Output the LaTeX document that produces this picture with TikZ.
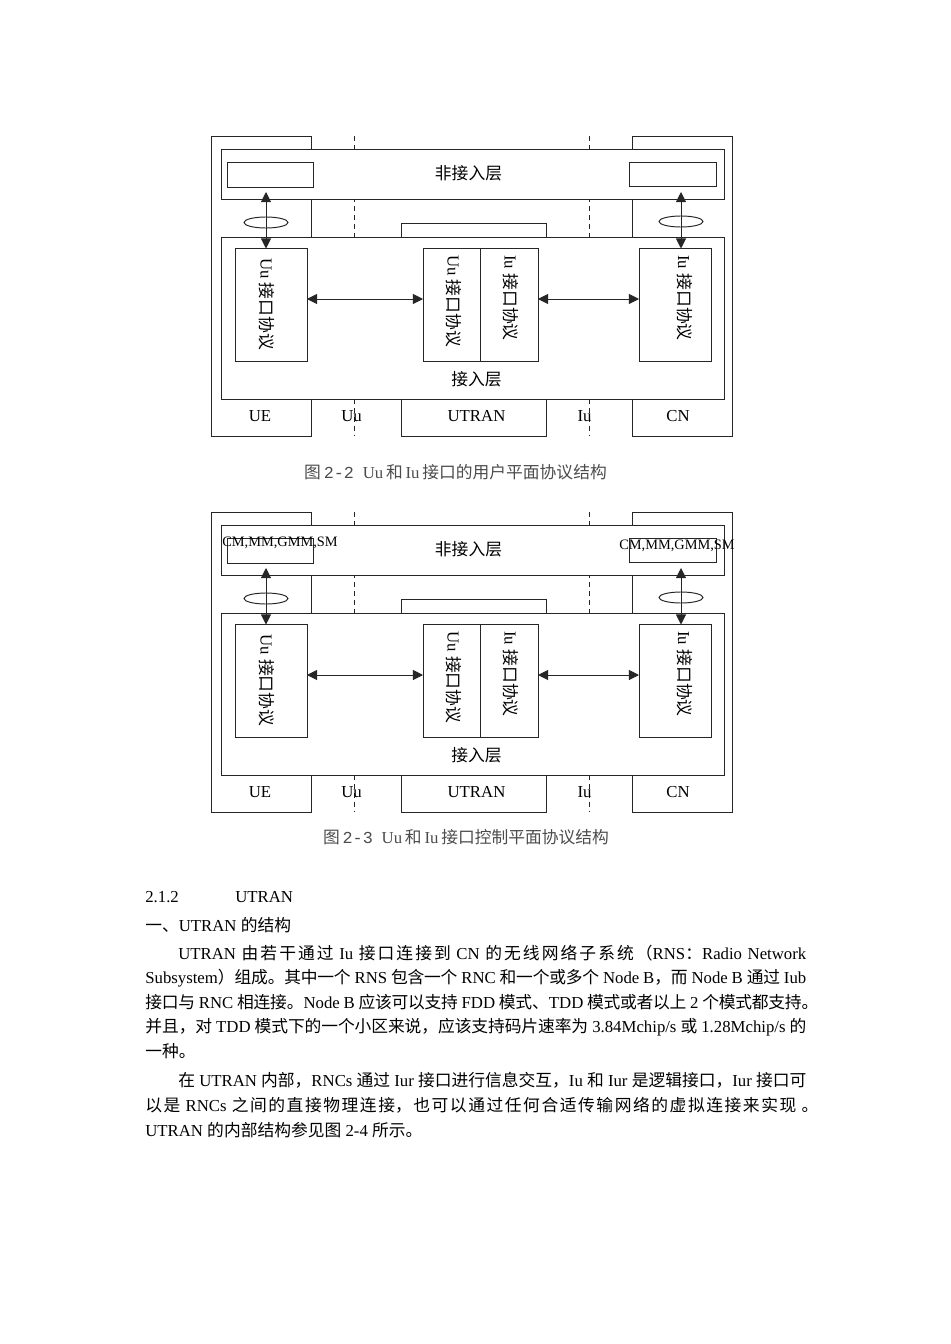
\documentclass[tikz,border=0pt]{standalone}
\usepackage{fontspec}
\setmainfont{Liberation Serif}
\newfontfamily\cjkf{Noto Sans CJK SC}
\newfontfamily\monof{Liberation Mono}
\usetikzlibrary{arrows.meta,fit,shapes.geometric}
\newlength\pxl \setlength\pxl{0.6264pt}
\newcommand\zh[1]{{\cjkf #1}}
\XeTeXlinebreaklocale "zh"
\XeTeXlinebreakskip=0pt plus 2pt minus 0.6pt
\newcommand\jline[2]{\parbox[b]{#1\pxl}{\parfillskip=0pt\parindent=0pt\tolerance=10000\leavevmode #2}}
\definecolor{ln}{gray}{0.15}
\definecolor{capc}{gray}{0.3}
\tikzset{
 box/.style={draw=ln, line width=0.6pt, inner sep=0pt, outer sep=0pt},
 dsh/.style={draw=ln, line width=0.5pt, dash pattern=on 3pt off 2.5pt},
 arr/.style={draw=ln, line width=0.6pt, arrows={Triangle[length=6.3pt,width=6.3pt]-Triangle[length=6.3pt,width=6.3pt]}},
 ell/.style={ellipse, draw=ln, line width=0.6pt, minimum width=27.6pt, minimum height=6.9pt, inner sep=0pt},
 lbl/.style={inner sep=0pt, font=\fontsize{10.5}{12}\selectfont},
 sm/.style={inner sep=0pt, font=\fontsize{9}{10}\selectfont},
 vt/.style={rotate=-90, anchor=west, inner sep=0pt, font=\fontsize{10.5}{12}\selectfont},
 captxt/.style={inner sep=0pt, text=capc, font=\fontsize{10.5}{12}\selectfont},
 body/.style={anchor=base west, inner sep=0pt, font=\fontsize{10.5}{12}\selectfont},
}
\newcommand\protostack[4]{%
\begin{scope}[shift={(0,#2)}]
 \node[box, fit={(211,136)(311,436)}] (#1ue) {};
 \node[box, fit={(632,136)(732,436)}] (#1cn) {};
 \node[box, fit={(401,223)(546,436)}] (#1ut) {};
 \coordinate (#1da) at (354,136); \coordinate (#1db) at (354,436);
 \coordinate (#1dc) at (589,136); \coordinate (#1dd) at (589,436);
 \draw[dsh] (#1da) -- (#1db);
 \draw[dsh] (#1dc) -- (#1dd);
 \node[box, fill=white, fit={(221,149.5)(724,199.5)}] (#1nas) {};
 \node[box, fill=white, fit={(221,237)(724,399)}] (#1as) {};
 \node[box, fit={(227,162)(313,187)}] (#1ls) {};
 \node[box, fit={(629,162)(716,186.5)}] (#1rs) {};
 \node[box, fit={(235,248.5)(307,361)}] (#1up) {};
 \node[box, fit={(423,248.5)(480,361)}] (#1tu) {};
 \node[box, fit={(480,248.5)(538,361)}] (#1ti) {};
 \node[box, fit={(639,248.5)(711,361)}] (#1cp) {};
 \draw[arr] (#1up.east |- 0,299) -- (#1tu.west |- 0,299);
 \draw[arr] (#1ti.east |- 0,299) -- (#1cp.west |- 0,299);
 \coordinate (#1va) at (266,192);
 \coordinate (#1vb) at (681,192);
 \draw[arr] (#1va) -- (#1up.north -| #1va);
 \draw[arr] (#1vb) -- (#1cp.north -| #1vb);
 \node[ell] (#1le) at (266,222.5) {};
 \node[ell] (#1re) at (681,221.5) {};
 \node[lbl] (#1tnas) at (468.5,173) {\zh{非接入层}};
 \node[lbl] (#1tas) at (476.5,379) {\zh{接入层}};
 \node[sm] (#1tls) at (280,167) {#3};
 \node[sm] (#1trs) at (677,170) {#4};
 \node[vt] (#1vu) at (267,258) {Uu \zh{接口协议}};
 \node[vt] (#1vtu) at (454,255) {Uu \zh{接口协议}};
 \node[vt] (#1vti) at (511,255) {Iu \zh{接口协议}};
 \node[vt] (#1vc) at (684.5,255) {Iu \zh{接口协议}};
 \node[lbl] (#1lue) at (260,416) {UE};
 \node[lbl] (#1luu) at (351.5,416) {Uu};
 \node[lbl] (#1lut) at (476.5,416) {UTRAN};
 \node[lbl] (#1liu) at (584.5,416) {Iu};
 \node[lbl] (#1lcn) at (678,416) {CN};
\end{scope}}
\begin{document}
\begin{tikzpicture}[x=0.6264pt, y=-0.6264pt]
\useasboundingbox (0,0) rectangle (950,1344);
\protostack{a}{0}{}{}
\node[captxt] (cap1) at (455.5,472) {\zh{图}\,{\monof 2-2}\; Uu\,\zh{和}\,Iu\,\zh{接口的用户平面协议结构}};
\protostack{b}{376}{CM,MM,GMM,SM}{CM,MM,GMM,SM}
\node[captxt] (cap2) at (466,837) {\zh{图}\,{\monof 2-3}\; Uu\,\zh{和}\,Iu\,\zh{接口控制平面协议结构}};
\node[body] (h1) at (145,902) {2.1.2};
\node[body] (h2) at (235,902) {UTRAN};
\node[body] (h3) at (145,931) {\zh{一、}UTRAN \zh{的结构}};
\node[body] (p1) at (178,959) {\jline{628}{UTRAN \zh{由若干通过} Iu \zh{接口连接到} CN \zh{的无线网络子系统（}RNS\zh{：}Radio Network}};
\node[body] (p2) at (145,983.5) {\jline{661}{Subsystem\zh{）组成。其中一个} RNS \zh{包含一个} RNC \zh{和一个或多个} Node B\zh{，而} Node B \zh{通过} Iub}};
\node[body] (p3) at (145,1008.5) {\jline{673}{\zh{接口与} RNC \zh{相连接。}Node B \zh{应该可以支持} FDD \zh{模式、}TDD \zh{模式或者以上} 2 \zh{个模式都支持。}}};
\node[body] (p4) at (145,1032.5) {\jline{661}{\zh{并且，对} TDD \zh{模式下的一个小区来说，应该支持码片速率为} 3.84Mchip/s \zh{或} 1.28Mchip/s \zh{的}}};
\node[body] (p5) at (145,1057.5) {\zh{一种。}};
\node[body] (q1) at (178,1086.5) {\jline{628}{\zh{在} UTRAN \zh{内部，}RNCs \zh{通过} Iur \zh{接口进行信息交互，}Iu \zh{和} Iur \zh{是逻辑接口，}Iur \zh{接口可}}};
\node[body] (q2) at (145,1111.5) {\jline{673}{\zh{以是} RNCs \zh{之间的直接物理连接，也可以通过任何合适传输网络的虚拟连接来实现} \zh{。}}};
\node[body] (q3) at (145,1136.5) {UTRAN \zh{的内部结构参见图} 2-4 \zh{所示。}};
\end{tikzpicture}
\end{document}
